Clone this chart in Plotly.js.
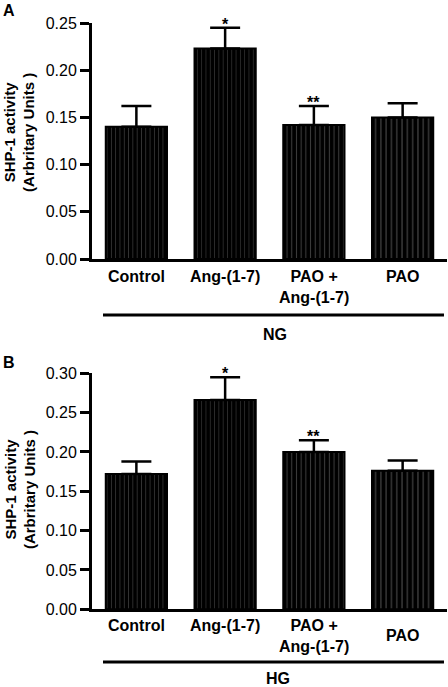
<!DOCTYPE html>
<html>
<head>
<meta charset="utf-8">
<script src="https://cdn.plot.ly/plotly-3.0.1.min.js"></script>
<style>html,body{margin:0;padding:0;background:#fff;}#chart{width:448px;height:687px;}</style>
</head>
<body>
<div id="chart"></div>
<script>
// ---- data ----
const categories = ["Control", "Ang-(1-7)", "PAO +<br>Ang-(1-7)", "PAO"];
const ngValues = [0.140, 0.223, 0.142, 0.150];
const ngErrors = [0.022, 0.022, 0.020, 0.015];
const hgValues = [0.172, 0.266, 0.200, 0.176];
const hgErrors = [0.016, 0.029, 0.015, 0.013];
const ngStars = ["", "*", "**", ""];
const hgStars = ["", "*", "**", ""];
const groupA = "NG";
const groupB = "HG";
const yTitle = "SHP-1 activity<br>(Arbritary Units )";

const FONT = "Arial, 'Liberation Sans', Helvetica, sans-serif";
const xIdx = categories.map((_, i) => i);
const pattern = {
  shape: "|",
  fillmode: "overlay",
  fgcolor: ["#6a6a6a", "#5a5a5a", "#7a7a7a", "#8a8a8a"],
  size: [4.3, 4.3, 4.7, 5.3],
  solidity: [0.2, 0.2, 0.22, 0.22]
};

function barTrace(vals, errs, xa, ya) {
  return {
    type: "bar", x: xIdx, y: vals, xaxis: xa, yaxis: ya, width: 0.69,
    marker: { color: "#000", line: { color: "#000", width: 2 }, pattern: pattern },
    error_y: { type: "data", array: errs, arrayminus: errs.map(() => 0), symmetric: false,
      color: "#000", thickness: 2.5, width: 15 },
    hoverinfo: "skip", showlegend: false
  };
}

const traces = [barTrace(ngValues, ngErrors, "x", "y"), barTrace(hgValues, hgErrors, "x2", "y2")];

const ann = [];
function addLabels(xref, topY, pushDownLast) {
  categories.forEach((c, i) => {
    ann.push({ xref: xref, yref: "paper", x: i, y: topY, yanchor: "top", xanchor: "center",
      text: "<b>" + c + "</b>", showarrow: false, font: { family: FONT, size: 16, color: "#000" },
      yshift: (pushDownLast && i === categories.length - 1) ? -10 : 0 });
  });
}
addLabels("x", 0.6128, false);
addLabels("x2", 0.1055, true);

function addStars(stars, vals, errs, xref, yref) {
  stars.forEach((s, i) => {
    if (!s) return;
    ann.push({ xref: xref, yref: yref, x: i, y: vals[i] + errs[i], yanchor: "bottom", xanchor: "center",
      text: "<b>" + s + "</b>", showarrow: false, font: { family: FONT, size: 16, color: "#000" }, yshift: -7 });
  });
}
addStars(ngStars, ngValues, ngErrors, "x", "y");
addStars(hgStars, hgValues, hgErrors, "x2", "y2");

ann.push({ xref: "paper", yref: "paper", x: 0.515, y: 0.529, yanchor: "top", xanchor: "center",
  text: "<b>" + groupA + "</b>", showarrow: false, font: { family: FONT, size: 16, color: "#000" } });
ann.push({ xref: "paper", yref: "paper", x: 0.524, y: 0.0275, yanchor: "top", xanchor: "center",
  text: "<b>" + groupB + "</b>", showarrow: false, font: { family: FONT, size: 16, color: "#000" } });

ann.push({ xref: "paper", yref: "paper", x: -0.255, y: 1.0, yanchor: "top", xanchor: "left",
  text: "<b>A</b>", showarrow: false, font: { family: FONT, size: 16, color: "#000" } });
ann.push({ xref: "paper", yref: "paper", x: -0.255, y: 0.4876, yanchor: "top", xanchor: "left",
  text: "<b>B</b>", showarrow: false, font: { family: FONT, size: 16, color: "#000" } });

ann.push({ xref: "paper", yref: "paper", x: -0.203, y: 0.8079, xanchor: "center", yanchor: "middle",
  textangle: -90, text: "<b>" + yTitle + "</b>", showarrow: false, font: { family: FONT, size: 15, color: "#000" } });
ann.push({ xref: "paper", yref: "paper", x: -0.203, y: 0.288, xanchor: "center", yanchor: "middle",
  textangle: -90, text: "<b>" + yTitle + "</b>", showarrow: false, font: { family: FONT, size: 15, color: "#000" } });

const shapes = [
  { type: "line", xref: "paper", yref: "paper", x0: 0.031, x1: 0.9915, y0: 1 - 315 / 687, y1: 1 - 315 / 687,
    line: { color: "#000", width: 3 } },
  { type: "line", xref: "paper", yref: "paper", x0: 0.031, x1: 0.9915, y0: 1 - 662 / 687, y1: 1 - 662 / 687,
    line: { color: "#000", width: 3 } }
];

const xCommon = { range: [-0.5, 3.5], showline: true, linewidth: 3, linecolor: "#000", ticks: "",
  showticklabels: false, showgrid: false, zeroline: false, fixedrange: true };
const yCommon = { dtick: 0.05, tickformat: ".2f", ticks: "outside", ticklen: 9, tickwidth: 3, tickcolor: "#000",
  showline: true, linewidth: 3, linecolor: "#000", showgrid: false, zeroline: false,
  tickfont: { family: FONT, size: 16, color: "#000" }, fixedrange: true };

const layout = {
  width: 448, height: 687,
  margin: { l: 92, r: 1, t: 0, b: 0 },
  paper_bgcolor: "#fff", plot_bgcolor: "#fff",
  font: { family: FONT, color: "#000" },
  xaxis: Object.assign({}, xCommon, { domain: [0, 1], anchor: "y" }),
  yaxis: Object.assign({}, yCommon, { domain: [1 - 259 / 687, 1 - 23 / 687], range: [0, 0.25], anchor: "x" }),
  xaxis2: Object.assign({}, xCommon, { domain: [0, 1], anchor: "y2" }),
  yaxis2: Object.assign({}, yCommon, { domain: [1 - 609.3 / 687, 1 - 373.3 / 687], range: [0, 0.30], anchor: "x2" }),
  annotations: ann,
  shapes: shapes,
  bargap: 0.3
};

Plotly.newPlot("chart", traces, layout, { displayModeBar: false, staticPlot: true });
</script>
</body>
</html>
